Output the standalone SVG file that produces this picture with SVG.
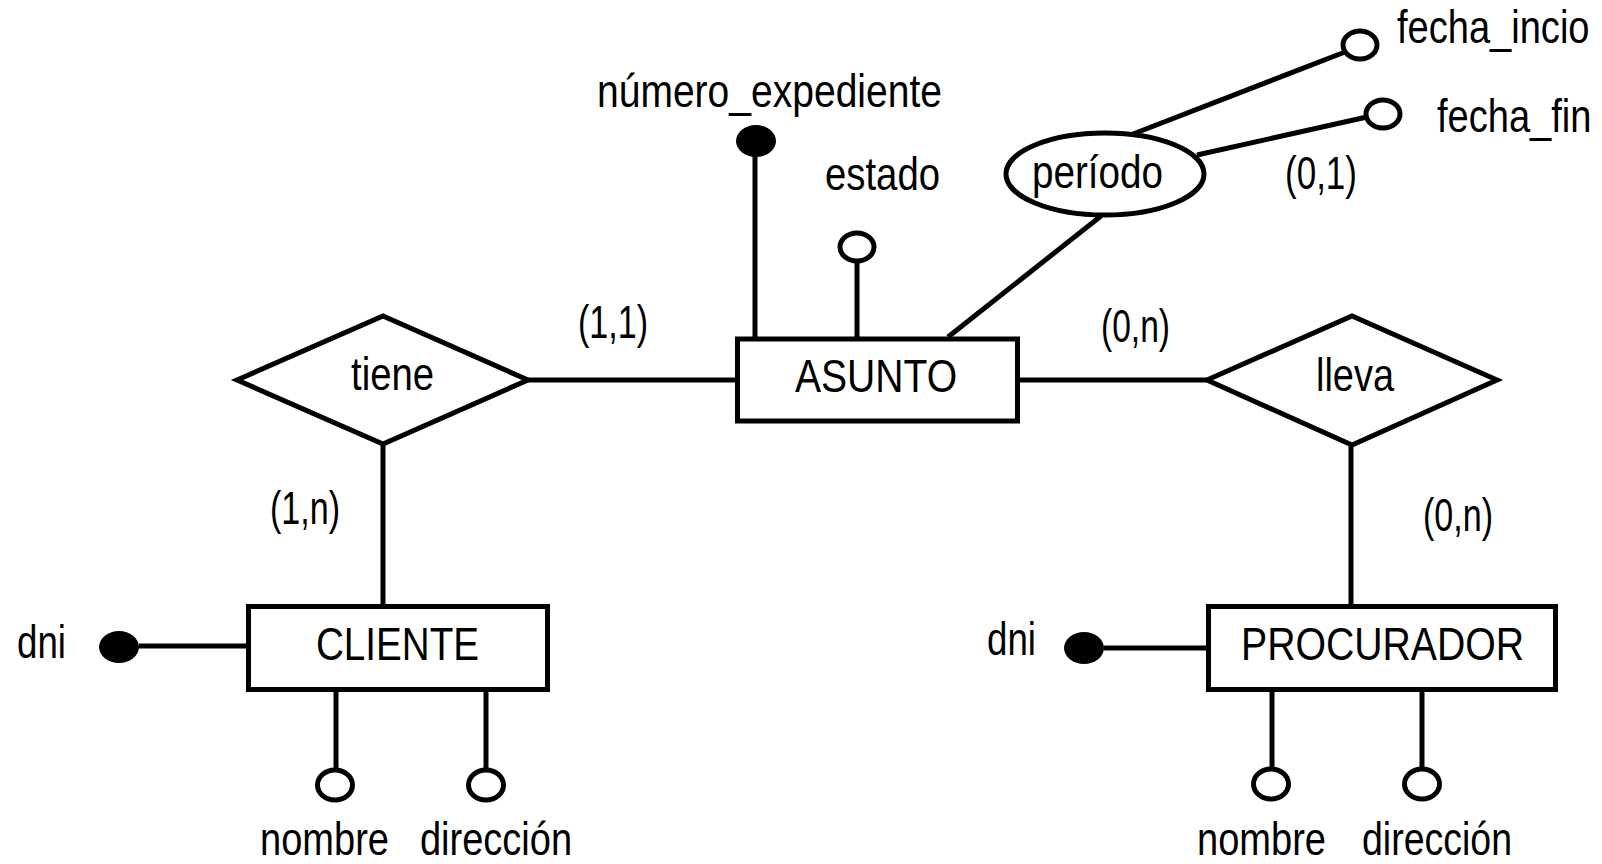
<svg xmlns="http://www.w3.org/2000/svg" width="1602" height="864" viewBox="0 0 1602 864">
<style>
.ln{stroke:#000;stroke-width:5;fill:none}
.sh{stroke:#000;stroke-width:5;fill:#fff}
.key{fill:#000;stroke:none}
.t{font-family:"Liberation Sans Narrow","Liberation Sans",Arial,sans-serif;font-size:47px;fill:#000}
</style>
<rect width="1602" height="864" fill="#fff"/>
<g id="connectors">
<line class="ln" x1="755" y1="141" x2="755" y2="339"/>
<line class="ln" x1="857" y1="260" x2="857" y2="339"/>
<line class="ln" x1="1101" y1="216" x2="948" y2="337"/>
<line class="ln" x1="1133" y1="134" x2="1345" y2="52"/>
<line class="ln" x1="1197" y1="155" x2="1367" y2="117"/>
<line class="ln" x1="527" y1="380" x2="737" y2="380"/>
<line class="ln" x1="1017" y1="380" x2="1207" y2="380"/>
<line class="ln" x1="383" y1="445" x2="383" y2="606"/>
<line class="ln" x1="1351" y1="446" x2="1351" y2="606"/>
<line class="ln" x1="139" y1="646" x2="248" y2="646"/>
<line class="ln" x1="1104" y1="648" x2="1208" y2="648"/>
<line class="ln" x1="336" y1="690" x2="336" y2="770"/>
<line class="ln" x1="486" y1="690" x2="486" y2="770"/>
<line class="ln" x1="1272" y1="690" x2="1272" y2="769"/>
<line class="ln" x1="1422" y1="690" x2="1422" y2="769"/>
</g>
<g id="asunto">
<rect class="sh" x="737.5" y="339" width="280" height="82"/>
<text class="t" x="795" y="392" textLength="162" lengthAdjust="spacingAndGlyphs">ASUNTO</text>
</g>
<g id="numero_expediente">
<ellipse class="key" cx="756" cy="141" rx="20" ry="16"/>
<text class="t" x="597" y="107" textLength="345" lengthAdjust="spacingAndGlyphs">número_expediente</text>
</g>
<g id="estado">
<ellipse class="sh" cx="857" cy="247" rx="17" ry="14"/>
<text class="t" x="825" y="190" textLength="115" lengthAdjust="spacingAndGlyphs">estado</text>
</g>
<g id="periodo">
<ellipse class="sh" cx="1105" cy="174" rx="99" ry="41"/>
<text class="t" x="1032" y="188" textLength="131" lengthAdjust="spacingAndGlyphs">período</text>
<text class="t" x="1285" y="189" textLength="72" lengthAdjust="spacingAndGlyphs">(0,1)</text>
</g>
<g id="fecha_incio">
<ellipse class="sh" cx="1360" cy="45" rx="17" ry="14"/>
<text class="t" transform="translate(1397,43) scale(0.81,1)">fecha_incio</text>
</g>
<g id="fecha_fin">
<ellipse class="sh" cx="1383" cy="114" rx="17" ry="14"/>
<text class="t" transform="translate(1437,132) scale(0.81,1)">fecha_fin</text>
</g>
<g id="tiene">
<polygon class="sh" points="237,380 383,316 528,380 383,444"/>
<text class="t" x="351" y="390" textLength="83" lengthAdjust="spacingAndGlyphs">tiene</text>
<text class="t" x="578" y="338" textLength="70" lengthAdjust="spacingAndGlyphs">(1,1)</text>
<text class="t" x="270" y="524" textLength="70" lengthAdjust="spacingAndGlyphs">(1,n)</text>
</g>
<g id="lleva">
<polygon class="sh" points="1207,380 1352,316 1497,380 1352,445"/>
<text class="t" x="1316" y="391" textLength="78" lengthAdjust="spacingAndGlyphs">lleva</text>
<text class="t" x="1101" y="342" textLength="69" lengthAdjust="spacingAndGlyphs">(0,n)</text>
<text class="t" x="1423" y="531" textLength="70" lengthAdjust="spacingAndGlyphs">(0,n)</text>
</g>
<g id="cliente">
<rect class="sh" x="248.5" y="606.5" width="299" height="83"/>
<text class="t" x="316" y="660" textLength="163" lengthAdjust="spacingAndGlyphs">CLIENTE</text>
</g>
<g id="cliente_dni">
<ellipse class="key" cx="119" cy="647" rx="20" ry="16"/>
<text class="t" x="17" y="658" textLength="49" lengthAdjust="spacingAndGlyphs">dni</text>
</g>
<g id="cliente_nombre">
<ellipse class="sh" cx="335" cy="785" rx="17.5" ry="15"/>
<text class="t" x="260" y="855" textLength="129" lengthAdjust="spacingAndGlyphs">nombre</text>
</g>
<g id="cliente_direccion">
<ellipse class="sh" cx="486" cy="785" rx="17.5" ry="15"/>
<text class="t" x="420" y="855" textLength="152" lengthAdjust="spacingAndGlyphs">dirección</text>
</g>
<g id="procurador">
<rect class="sh" x="1208.5" y="606.5" width="347" height="83"/>
<text class="t" x="1241" y="660" textLength="283" lengthAdjust="spacingAndGlyphs">PROCURADOR</text>
</g>
<g id="procurador_dni">
<ellipse class="key" cx="1084" cy="648" rx="20" ry="16"/>
<text class="t" x="987" y="655" textLength="49" lengthAdjust="spacingAndGlyphs">dni</text>
</g>
<g id="procurador_nombre">
<ellipse class="sh" cx="1271" cy="784" rx="17.5" ry="15"/>
<text class="t" x="1197" y="855" textLength="129" lengthAdjust="spacingAndGlyphs">nombre</text>
</g>
<g id="procurador_direccion">
<ellipse class="sh" cx="1422" cy="784" rx="17.5" ry="15"/>
<text class="t" x="1362" y="855" textLength="150" lengthAdjust="spacingAndGlyphs">dirección</text>
</g>
</svg>
